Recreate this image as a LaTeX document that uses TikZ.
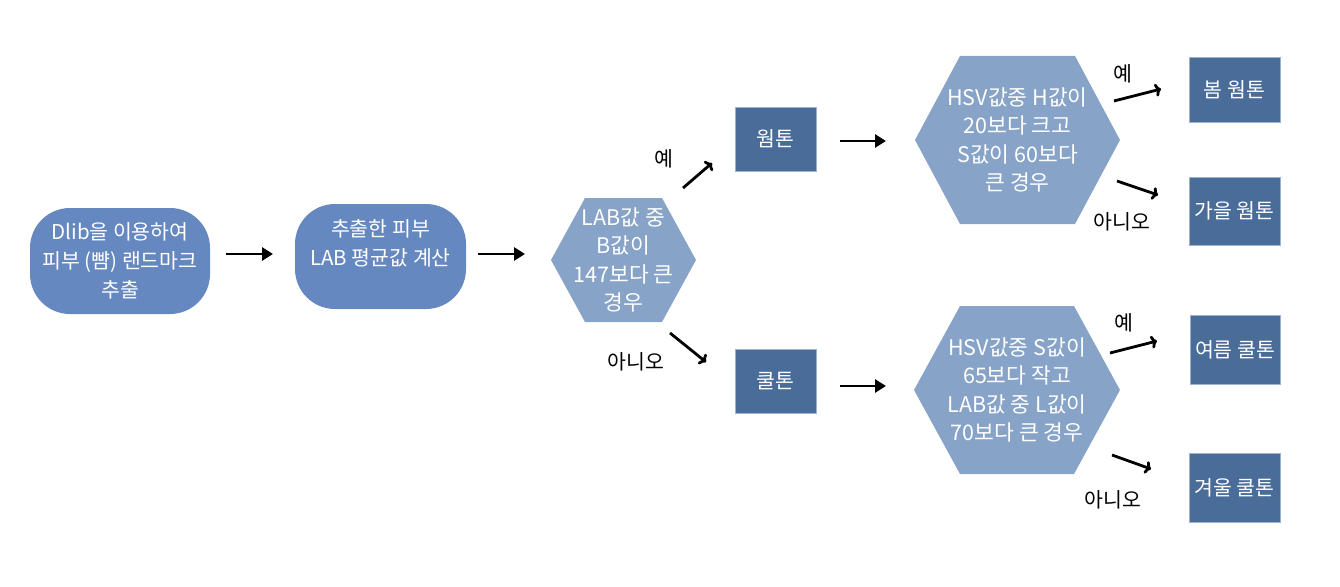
\documentclass[tikz,border=0pt]{standalone}
\usepackage{fontspec}
\setmainfont{Noto Sans CJK KR}
\usetikzlibrary{arrows.meta}
\definecolor{roundc}{HTML}{6688C0}
\definecolor{hexc}{HTML}{87A3C8}
\definecolor{boxc}{HTML}{4A6C99}
\definecolor{boxedge}{HTML}{9DB3D3}
\tikzset{
  roundbox/.style={fill=roundc, rounded corners=40pt, minimum width=180pt, minimum height=106pt, text=white, align=center, font=\fontsize{20.5}{29}\selectfont, inner sep=0pt},
  hextext/.style={text=white, align=center, font=\fontsize{21.5}{28.5}\selectfont, inner sep=0pt},
  resbox/.style={fill=boxc, draw=boxedge, line width=0.8pt, text=white, align=center, font=\fontsize{20.5}{22}\selectfont, inner sep=0pt},
  lbl/.style={text=black, font=\fontsize{20.5}{22}\selectfont, inner sep=0pt},
  arrf/.style={line width=2.8pt, -{Triangle[length=11pt,width=13pt]}},
  arro/.style={line width=2.8pt, -{To[length=6pt,width=13pt,line width=2.8pt]}},
}
\newcommand{\hexshape}[7]{%
  \fill[hexc] (#2-#4,#3) -- (#2-#6,#3-#5) -- (#2+#6,#3-#5) -- (#2+#4,#3) -- (#2+#6,#3+#5) -- (#2-#6,#3+#5) -- cycle;
  \node[hextext] (#1) at (#2,#3) {#7};
}
\begin{document}
\begin{tikzpicture}[x=1pt,y=-1pt]
\useasboundingbox (0,0) rectangle (1340,586);
% start boxes
\node[roundbox] (dlib) at (120,261) {Dlib을 이용하여\\피부 (뺨) 랜드마크\\추출};
\node[roundbox, minimum width=171pt, minimum height=105pt] (lab) at (380.5,256.5) {추출한 피부\\LAB 평균값 계산\\\mbox{}};
% hexagons
\hexshape{hexa}{623.5}{260}{72.5}{62}{38.5}{LAB값 중\\B값이\\147보다 큰\\경우}
\hexshape{hexb}{1017.5}{140}{102.5}{84}{57.5}{HSV값중 H값이\\20보다 크고\\S값이 60보다\\큰 경우}
\hexshape{hexc}{1017}{390}{103}{84}{57}{HSV값중 S값이\\65보다 작고\\LAB값 중 L값이\\70보다 큰 경우}
% middle boxes
\node[resbox, minimum width=81pt, minimum height=64pt] (warm) at (775.5,139) {웜톤};
\node[resbox, minimum width=81pt, minimum height=64pt] (cool) at (775.5,381) {쿨톤};
% result boxes
\node[resbox, minimum width=91pt, minimum height=65pt] (spring) at (1234.5,89.5) {봄 웜톤};
\node[resbox, minimum width=91pt, minimum height=68pt] (autumn) at (1234.5,211) {가을 웜톤};
\node[resbox, minimum width=90pt, minimum height=69pt] (summer) at (1235,349.5) {여름 쿨톤};
\node[resbox, minimum width=91pt, minimum height=69pt] (winter) at (1234.5,487.5) {겨울 쿨톤};
% labels
\node[lbl] (y1) at (664,159) {예};
\node[lbl] (n1) at (636,362) {아니오};
\node[lbl] (y2) at (1123,74) {예};
\node[lbl] (n2) at (1122,222) {아니오};
\node[lbl] (y3) at (1124,323) {예};
\node[lbl] (n3) at (1113,500) {아니오};
% arrow coordinates
\coordinate (a1s) at (226,254); \coordinate (a1e) at (273,254);
\coordinate (a2s) at (478,254); \coordinate (a2e) at (525,254);
\coordinate (a3s) at (683,188); \coordinate (a3e) at (712,163);
\coordinate (a4s) at (670,333); \coordinate (a4e) at (706,362);
\coordinate (a5s) at (840,141); \coordinate (a5e) at (886,141);
\coordinate (a6s) at (840,386); \coordinate (a6e) at (886,386);
\coordinate (a7s) at (1114,101); \coordinate (a7e) at (1161,89);
\coordinate (a8s) at (1117,181); \coordinate (a8e) at (1158,195);
\coordinate (a9s) at (1110,353); \coordinate (a9e) at (1157,341);
\coordinate (a10s) at (1112,455); \coordinate (a10e) at (1151,469);
\draw[arrf] (a1s) -- (a1e);
\draw[arrf] (a2s) -- (a2e);
\draw[arro] (a3s) -- (a3e);
\draw[arro] (a4s) -- (a4e);
\draw[arrf] (a5s) -- (a5e);
\draw[arrf] (a6s) -- (a6e);
\draw[arro] (a7s) -- (a7e);
\draw[arro] (a8s) -- (a8e);
\draw[arro] (a9s) -- (a9e);
\draw[arro] (a10s) -- (a10e);
\end{tikzpicture}
\end{document}
